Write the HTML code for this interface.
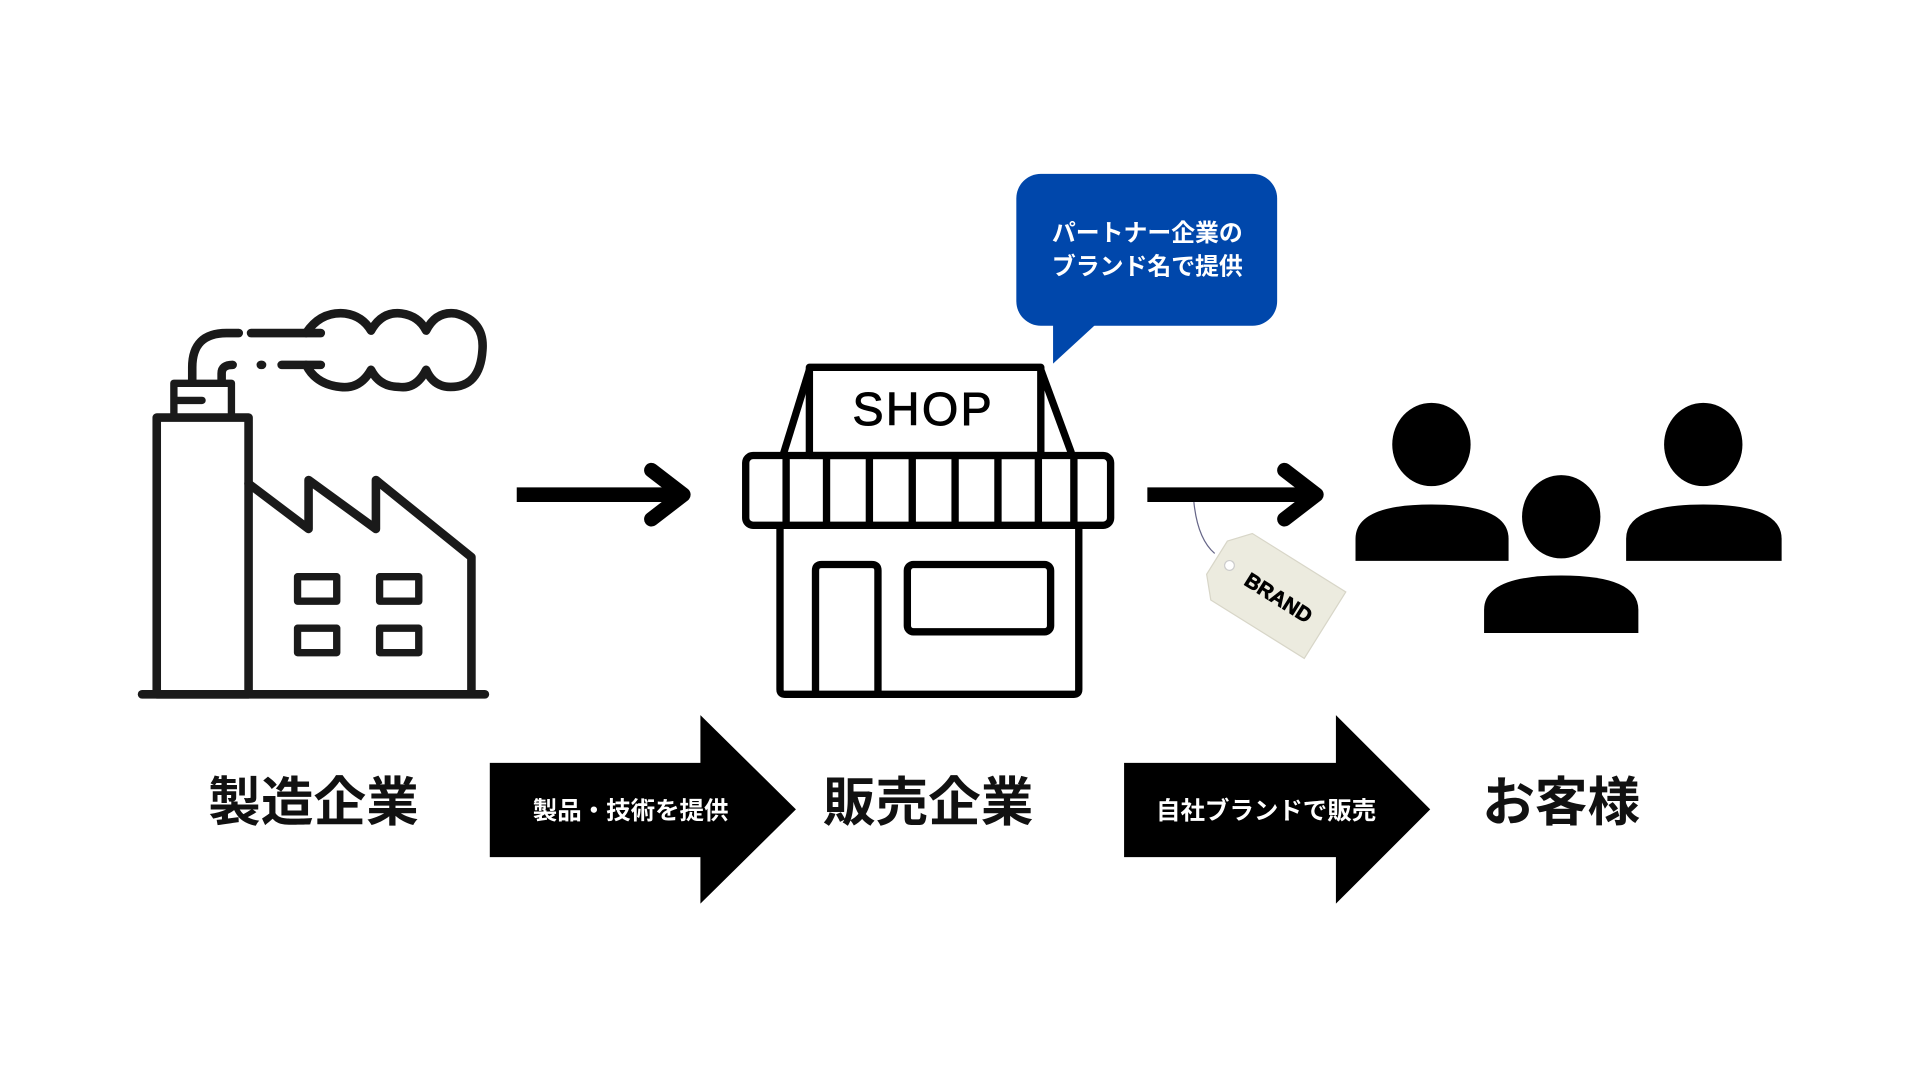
<!DOCTYPE html>
<html><head><meta charset="utf-8"><style>
html,body{margin:0;padding:0;background:#fff;width:1920px;height:1080px;overflow:hidden}
svg{display:block}
text{font-family:"Liberation Sans","Noto Sans CJK JP",sans-serif}
</style></head><body>
<svg width="1920" height="1080" viewBox="0 0 1568 882" xmlns="http://www.w3.org/2000/svg">
<rect width="1568" height="882" fill="#fff"/>
<g fill="none" stroke="#1a1a1a" stroke-width="7" stroke-linejoin="round" stroke-linecap="round">
<line x1="116" y1="567" x2="396" y2="567"/>
<rect x="128" y="341" width="75" height="226"/>
<rect x="142" y="313" width="47" height="28" stroke-width="6"/>
<line x1="145" y1="327" x2="165" y2="327" stroke-width="6"/>
<polyline points="203,395 252,432 252,392 307,432 307,392 385,455 385,565"/>
<rect x="243" y="471" width="32" height="20" stroke-width="6"/>
<rect x="310" y="471" width="32" height="20" stroke-width="6"/>
<rect x="243" y="513" width="32" height="20" stroke-width="6"/>
<rect x="310" y="513" width="32" height="20" stroke-width="6"/>
<path d="M157,312 V300 Q157,272 185,272 H195" stroke-width="7"/>
<line x1="205" y1="272" x2="262" y2="272"/>
<path d="M181,312 V305 Q181,298 190,298" stroke-width="7"/>
<line x1="213" y1="298" x2="214" y2="298"/>
<line x1="230" y1="298" x2="262" y2="298"/>
<path d="M250,272 Q262,254 282,256 Q296,258 303,270 Q312,254 328,256 Q342,258 348,270 Q356,254 372,256 Q396,262 394,286 Q392,316 368,316 Q354,316 348,302 Q340,318 326,316 Q310,316 303,302 Q294,318 278,316 Q258,314 250,298"/>
</g>
<g stroke="#000" stroke-width="12" stroke-linecap="round" stroke-linejoin="round" fill="none">
<line x1="422" y1="404" x2="556" y2="404" stroke-linecap="butt"/>
<polyline points="532,384 558,404 532,424"/>
<line x1="937" y1="404" x2="1073" y2="404" stroke-linecap="butt"/>
<polyline points="1049,384 1075,404 1049,424"/>
</g>
<g fill="none" stroke="#000" stroke-width="6" stroke-linejoin="round">
<rect x="661" y="300" width="189" height="72"/>
<line x1="661" y1="302" x2="640" y2="370"/>
<line x1="850" y1="302" x2="875" y2="370"/>
<rect x="609" y="372" width="298" height="57" rx="6"/>
<line x1="642" y1="374" x2="642" y2="428"/><line x1="675" y1="374" x2="675" y2="428"/>
<line x1="710" y1="374" x2="710" y2="428"/><line x1="745" y1="374" x2="745" y2="428"/>
<line x1="780" y1="374" x2="780" y2="428"/><line x1="815" y1="374" x2="815" y2="428"/>
<line x1="848" y1="374" x2="848" y2="428"/><line x1="877" y1="374" x2="877" y2="428"/>
<path d="M637,430 V563 Q637,567 641,567 H877 Q881,567 881,563 V430"/>
<path d="M666,567 V466 Q666,461 671,461 H712 Q717,461 717,466 V567"/>
<rect x="741" y="461" width="117" height="55" rx="5"/>
</g>
<text x="754" y="347" font-size="38" letter-spacing="2" text-anchor="middle" fill="#000" stroke="#000" stroke-width="0.8">SHOP</text>
<rect x="830" y="142" width="213" height="124" rx="20" fill="#0047AB"/>
<polygon points="860,262 860,297 898,262" fill="#0047AB"/>
<text x="937" y="197" font-size="19.5" font-weight="bold" fill="#fff" text-anchor="middle">パートナー企業の</text>
<text x="937" y="224" font-size="19.5" font-weight="bold" fill="#fff" text-anchor="middle">ブランド名で提供</text>
<path d="M975,410 Q978,440 992,452" fill="none" stroke="#668" stroke-width="1"/>
<g transform="translate(1038,483) rotate(32)">
<polygon points="-52,-16 -38,-32 52,-32 52,32 -38,32 -52,16" fill="#ecebdf" stroke="#d8d6c8"/>
<circle cx="-40" cy="0" r="4" fill="#fff" stroke="#ccc"/>
<text x="8" y="7" font-size="17" font-weight="bold" text-anchor="middle" fill="#000" stroke="#000" stroke-width="0.6">BRAND</text>
</g>
<g fill="#000">
<ellipse cx="1169" cy="363" rx="32" ry="34"/>
<path d="M1107,458 V440 Q1107,412 1169,412 Q1232,412 1232,440 V458 Z"/>
<ellipse cx="1391" cy="363" rx="32" ry="34"/>
<path d="M1328,458 V440 Q1328,412 1391,412 Q1455,412 1455,440 V458 Z"/>
<ellipse cx="1275" cy="422" rx="32" ry="34"/>
<path d="M1212,517 V498 Q1212,470 1275,470 Q1338,470 1338,498 V517 Z"/>
</g>
<g font-size="43" font-weight="bold" fill="#111" text-anchor="middle">
<text x="256" y="670">製造企業</text>
<text x="758" y="670">販売企業</text>
<text x="1275" y="670">お客様</text>
</g>
<polygon points="400,623 572,623 572,584 650,661 572,738 572,700 400,700" fill="#000"/>
<polygon points="918,623 1091,623 1091,584 1168,661 1091,738 1091,700 918,700" fill="#000"/>
<text x="515" y="669" font-size="20" font-weight="bold" fill="#fff" text-anchor="middle">製品・技術を提供</text>
<text x="1034" y="669" font-size="20" font-weight="bold" fill="#fff" text-anchor="middle">自社ブランドで販売</text>
</svg>
</body></html>
